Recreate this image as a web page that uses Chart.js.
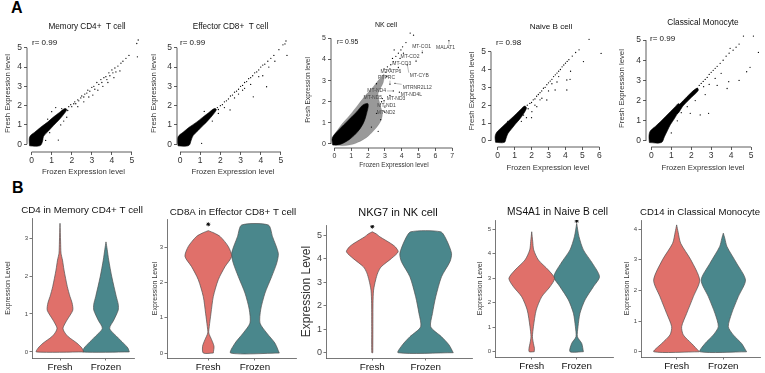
<!DOCTYPE html>
<html>
<head>
<meta charset="utf-8">
<script src="https://cdn.jsdelivr.net/npm/chart.js@4.4.1/dist/chart.umd.min.js"></script>
<style>
  body { margin: 0; width: 765px; height: 373px; position: relative; overflow: hidden; background: #fff; }
  canvas { position: absolute; }
  .tag { position: absolute; font: bold 16px 'Liberation Sans', Arial, sans-serif; line-height: 16px; color: #000; }
</style>
</head>
<body>
<div class="tag" style="left:11px;top:0px">A</div>
<div class="tag" style="left:12px;top:180px">B</div>
<script>
// ---------- data: panel A (scatter, fresh vs frozen) ----------
const ticks05 = [0, 1, 2, 3, 4, 5];
const ticks06 = [0, 1, 2, 3, 4, 5, 6];
const ticks07 = [0, 1, 2, 3, 4, 5, 6, 7];

// dense cores (outline of the solid black blob)
const memCd4Core = [[-0.1,-0.08],[-0.12,0.2],[-0.08,0.42],[0.15,0.62],[0.45,0.88],[0.8,1.15],[1.1,1.42],[1.4,1.66],[1.65,1.85],[1.75,1.8],[1.6,1.55],[1.35,1.25],[1.1,0.98],[0.85,0.7],[0.6,0.42],[0.55,0.18],[0.45,-0.05],[0.2,-0.1]];
const memCd4Pts = [[1.95,2.05],[2.0,1.95],[2.1,2.1],[2.15,2.2],[2.2,2.1],[2.3,2.3],[2.35,2.25],[2.45,2.4],[2.5,2.5],[2.6,2.45],[2.65,2.6],[2.75,2.65],[2.8,2.8],[2.9,2.75],[3.0,2.95],[3.1,3.0],[3.15,2.85],[3.25,3.2],[3.35,3.1],[3.45,3.35],[3.5,3.2],[3.6,3.45],[3.7,3.5],[3.75,3.35],[3.85,3.7],[3.9,3.55],[4.0,3.85],[4.05,3.7],[4.15,3.95],[4.2,3.75],[4.3,4.05],[4.45,4.2],[4.55,4.3],[4.7,4.45],[4.85,4.6],[5.31,5.4],[5.24,5.22],[5.27,4.53],[2.3,1.95],[2.6,2.2],[2.85,2.45],[3.05,2.55],[3.3,2.8],[3.55,3.0],[3.8,3.2],[4.1,3.45],[4.4,3.8],[1.6,1.2],[1.45,1.0],[1.33,0.22],[1.0,1.69],[0.8,1.3],[1.2,1.9],[1.75,1.4],[1.5,1.85],[1.85,1.95],[1.8,1.75],[0.7,0.2],[0.9,0.6]];

const effCd8Core = [[-0.1,-0.08],[-0.12,0.2],[-0.08,0.42],[0.15,0.62],[0.45,0.88],[0.8,1.13],[1.1,1.38],[1.4,1.62],[1.7,1.85],[1.8,1.8],[1.65,1.55],[1.4,1.25],[1.15,0.98],[0.9,0.72],[0.65,0.45],[0.55,0.2],[0.45,-0.05],[0.2,-0.1]];
const effCd8Pts = [[2.0,2.0],[2.1,2.05],[2.2,2.2],[2.3,2.25],[2.4,2.35],[2.5,2.5],[2.6,2.55],[2.7,2.7],[2.8,2.75],[2.9,2.85],[3.0,3.0],[3.1,3.05],[3.2,3.2],[3.3,3.25],[3.4,3.4],[3.5,3.45],[3.6,3.55],[3.7,3.7],[3.8,3.75],[3.9,3.85],[4.0,4.0],[4.1,4.1],[4.2,4.15],[4.35,4.3],[4.5,4.45],[4.65,4.6],[4.9,4.9],[5.1,5.15],[5.25,5.35],[5.3,4.6],[5.2,5.2],[2.48,1.78],[3.63,2.46],[4.29,2.98],[3.2,2.9],[3.5,3.1],[3.9,3.5],[4.1,3.55],[2.7,2.4],[2.9,2.6],[3.1,2.8],[1.07,0.05],[1.6,1.2],[1.9,1.6],[2.2,1.9],[1.2,1.7],[4.4,4.0],[4.7,4.3],[1.85,1.9],[1.9,1.8]];

const nkCore = [[-0.1,-0.05],[-0.12,0.3],[0.3,0.7],[0.8,1.1],[1.3,1.5],[1.7,1.85],[2.0,1.9],[1.9,1.4],[1.7,0.95],[1.35,0.55],[0.95,0.25],[0.55,0.05],[0.2,-0.05]];
const nkHalo = [[-0.12,0.3],[0.4,0.9],[0.9,1.35],[1.4,1.85],[1.9,2.35],[2.3,2.7],[2.7,3.1],[2.95,3.3],[2.9,2.9],[2.6,2.4],[2.7,1.9],[2.85,1.4],[2.7,1.0],[2.3,0.6],[1.9,0.3],[1.4,0.08],[0.9,-0.05],[0.2,-0.05]];
const nkPts = [[3.05,3.4],[3.2,3.5],[3.15,3.65],[3.35,3.75],[3.5,3.9],[3.45,4.05],[3.65,4.15],[3.8,4.3],[3.95,4.45],[4.05,4.6],[4.25,4.8],[4.5,5.25],[4.7,5.15],[3.9,4.05],[4.1,4.3],[3.3,3.55],[2.95,3.55],[3.1,3.2],[2.8,2.0],[3.0,1.75],[2.5,1.45],[2.75,1.15],[3.0,1.5],[2.2,0.8],[2.6,0.6],[3.55,4.45],[2.5,2.85],[6.8,4.89],[5.22,4.32],[4.85,3.92],[3.8,3.62],[4.33,3.74],[3.3,2.83],[3.6,2.87],[3.86,2.45],[3.5,2.51],[3.3,2.3],[2.85,2.15],[2.95,2.05],[2.95,1.55]];
// gene labels: [name, textX, textY, pointX, pointY]
const nkGenes = [
  ['MALAT1', 6.6, 4.56, 6.8, 4.89],
  ['MT-CO1', 5.18, 4.59, 5.22, 4.32],
  ['MT-CO2', 4.49, 4.13, 4.85, 3.92],
  ['MT-CO3', 4.0, 3.8, 3.8, 3.62],
  ['MT-CYB', 5.04, 3.23, 4.33, 3.74],
  ['MT-ATP6', 3.36, 3.42, 2.95, 3.45],
  ['PTPRC', 3.1, 3.14, 3.3, 2.83],
  ['MTRNR2L12', 4.92, 2.68, 3.6, 2.87],
  ['MT-ND4L', 4.57, 2.35, 3.86, 2.45],
  ['MT-ND4', 2.51, 2.51, 3.5, 2.51],
  ['MT-ND3', 3.66, 2.13, 3.3, 2.3],
  ['MT-ND5', 2.28, 2.19, 2.85, 2.15],
  ['MT-ND1', 3.1, 1.81, 2.95, 2.05],
  ['MT-ND2', 3.07, 1.5, 2.95, 1.55]
];

const naiveBCore = [[-0.12,-0.08],[-0.15,0.22],[-0.08,0.45],[0.15,0.68],[0.45,0.95],[0.8,1.25],[1.1,1.52],[1.4,1.8],[1.6,1.95],[1.7,1.85],[1.55,1.55],[1.3,1.22],[1.05,0.95],[0.8,0.65],[0.6,0.4],[0.5,0.15],[0.4,-0.08]];
const naiveBPts = [[1.9,2.1],[2.0,2.15],[2.1,2.3],[2.2,2.35],[2.3,2.5],[2.4,2.6],[2.5,2.7],[2.6,2.8],[2.7,2.95],[2.8,3.0],[2.9,3.15],[3.0,3.25],[3.1,3.35],[3.2,3.45],[3.3,3.6],[3.4,3.7],[3.5,3.8],[3.6,3.9],[3.7,4.0],[3.8,4.15],[3.9,4.25],[4.0,4.35],[4.1,4.45],[4.2,4.55],[4.4,4.75],[4.6,4.95],[4.8,5.1],[5.39,5.69],[6.1,4.9],[5.06,4.44],[4.08,3.41],[4.27,3.45],[3.39,2.85],[4.08,2.85],[2.61,2.39],[2.9,2.29],[2.31,1.92],[2.02,1.64],[1.53,1.45],[2.2,2.0],[2.5,2.3],[3.0,2.8],[3.5,3.3],[4.3,3.9],[1.7,1.3],[1.4,1.1],[2.0,1.3],[0.6,1.1],[3.2,3.2],[3.6,3.6],[1.75,2.0],[1.8,1.8]];

const monoCore = [[-0.1,-0.08],[-0.12,0.25],[-0.05,0.5],[0.2,0.72],[0.45,0.95],[0.7,1.2],[0.95,1.45],[1.2,1.7],[1.35,1.85],[1.45,1.75],[1.35,1.45],[1.15,1.1],[0.95,0.8],[0.8,0.5],[0.65,0.2],[0.5,-0.08]];
const monoBand = [[1.2,1.6],[1.6,2.0],[2.0,2.4],[2.3,2.62],[2.35,2.5],[2.0,2.15],[1.6,1.75],[1.3,1.35]];
const monoPts = [[1.5,1.85],[1.6,1.95],[1.7,2.05],[1.75,2.0],[1.85,2.2],[1.9,2.15],[2.0,2.3],[2.1,2.4],[2.2,2.5],[2.3,2.6],[2.4,2.75],[2.5,2.85],[2.6,2.95],[2.7,3.05],[2.8,3.15],[2.9,3.3],[3.0,3.4],[3.1,3.5],[3.2,3.6],[3.3,3.7],[3.45,3.85],[3.6,4.0],[3.75,4.2],[3.9,4.35],[3.95,4.59],[4.1,4.5],[4.25,4.65],[4.4,4.8],[4.62,5.2],[5.12,5.2],[5.37,4.39],[1.95,1.37],[2.45,1.29],[2.87,1.37],[3.8,2.6],[3.88,2.94],[4.78,3.43],[4.95,3.65],[2.62,2.69],[2.9,2.8],[3.2,3.1],[3.5,3.35],[2.2,2.0],[1.8,1.7],[1.5,1.4],[1.3,1.0],[2.7,2.3],[3.3,2.75],[4.4,3.0],[1.0,0.4]];

// ---------- data: panel B (violins) ----------
const groups = ['Fresh', 'Frozen'];
const vTicks3 = [0, 1, 2, 3];
const vTicks4 = [0, 1, 2, 3, 4];
const vTicks5 = [0, 1, 2, 3, 4, 5];

// level (y) and half-width (in group units) of each violin outline
const cd4FreshY  = [0, 0.1, 0.23, 0.4, 0.52, 0.63, 0.84, 1.1, 1.3, 1.46, 1.72, 2.16, 2.42, 2.6, 2.9, 3.39];
const cd4FreshW  = [0.515, 0.478, 0.37, 0.18, 0.098, 0.065, 0.152, 0.278, 0.261, 0.217, 0.159, 0.087, 0.054, 0.022, 0.013, 0];
const cd4FrozenY = [0, 0.1, 0.23, 0.4, 0.62, 0.84, 1.1, 1.25, 1.46, 1.98, 2.42, 2.7, 2.9];
const cd4FrozenW = [0.507, 0.478, 0.38, 0.239, 0.08, 0.17, 0.265, 0.267, 0.224, 0.126, 0.059, 0.026, 0];

const cd8FreshY  = [0, 0.19, 0.38, 0.57, 0.75, 1.13, 1.6, 2.08, 2.45, 2.74, 3.02, 3.3, 3.4, 3.47];
const cd8FreshW  = [0.107, 0.122, 0.071, 0.011, 0.021, 0.058, 0.107, 0.214, 0.358, 0.499, 0.428, 0.257, 0.128, 0];
const cd8FrozenY = [0, 0.28, 0.57, 0.85, 1.23, 1.7, 2.17, 2.55, 2.83, 3.3, 3.63];
const cd8FrozenW = [0.52, 0.428, 0.25, 0.107, 0.122, 0.214, 0.358, 0.465, 0.499, 0.375, 0.285];

const nkg7FreshY  = [0, 1, 2.1, 2.66, 3.09, 3.4, 3.65, 4.01, 4.29, 4.5, 4.65, 4.93, 5.05, 5.14];
const nkg7FreshW  = [0.009, 0.011, 0.013, 0.024, 0.062, 0.103, 0.165, 0.36, 0.484, 0.43, 0.343, 0.141, 0.075, 0];
const nkg7FrozenY = [0, 0.33, 0.68, 1.1, 1.67, 2.38, 3.23, 3.87, 4.22, 4.79, 5.14];
const nkg7FrozenW = [0.516, 0.437, 0.296, 0.094, 0.126, 0.188, 0.296, 0.454, 0.484, 0.39, 0.281];

const ms4a1FreshY  = [0, 0.14, 0.34, 0.61, 1.02, 1.7, 2.24, 2.65, 2.99, 3.33, 3.74, 4.15, 4.5, 4.89];
const ms4a1FreshW  = [0.056, 0.06, 0.038, 0.016, 0.038, 0.1, 0.222, 0.407, 0.507, 0.371, 0.149, 0.044, 0.022, 0];
const ms4a1FrozenY = [0, 0.34, 0.61, 1.02, 1.57, 2.11, 2.65, 3.06, 3.6, 4.15, 4.69, 5.23];
const ms4a1FrozenW = [0.149, 0.111, 0.016, 0.029, 0.073, 0.184, 0.371, 0.507, 0.351, 0.149, 0.051, 0];

const cd14FreshY  = [0, 0.27, 0.55, 0.82, 1.25, 1.8, 2.34, 3.0, 3.54, 3.9, 4.14];
const cd14FreshW  = [0.488, 0.321, 0.143, 0.107, 0.214, 0.358, 0.493, 0.304, 0.086, 0.032, 0];
const cd14FrozenY = [0, 0.27, 0.55, 0.82, 1.25, 1.8, 2.34, 2.89, 3.43, 3.7, 3.87];
const cd14FrozenW = [0.499, 0.392, 0.214, 0.107, 0.178, 0.321, 0.475, 0.285, 0.079, 0.032, 0];

// significance stars: [group position, level]
const cd8Stars = [[1, 3.65]];
const nkg7Stars = [[1, 5.36]];
const ms4a1Stars = [[2, 5.33]];

const FRESH = '#e0706a';
const FROZEN = '#4a878c';
const FONT = "'Liberation Sans', Arial, Helvetica, sans-serif";

Chart.defaults.font.family = FONT;
Chart.defaults.animation = false;

/**
 * helpers
 */
const xy = (pairs) => pairs.map(([x, y]) => ({ x, y }));
const closed = (pairs) => xy(pairs.concat([pairs[0]]));

function violin(center, ys, ws) {
  const right = ys.map((y, i) => ({ x: center + ws[i], y }));
  const left = ys.map((y, i) => ({ x: center - ws[i], y })).reverse();
  return right.concat(left, [right[0]]);
}

function makeCanvas(box) {
  const c = document.createElement('canvas');
  c.width = box.x1 - box.x0;
  c.height = box.y1 - box.y0;
  c.style.left = box.x0 + 'px';
  c.style.top = box.y0 + 'px';
  document.body.appendChild(c);
  return c;
}

// turn page positions into box sizes so that the plot area lands where the reference has it
function frame(box, area, t) {
  const lh = (s) => s * 1.2;
  const pos = (v) => Math.max(0, v);
  return {
    padRight: box.x1 - area.r,
    yW: area.l - box.x0,
    xH: box.y1 - area.b,
    titlePad: { top: pos(t.titleY - box.y0 - lh(t.titleSize) / 2), bottom: pos(area.t - t.titleY - lh(t.titleSize) / 2) },
    yTitlePad: { top: pos(t.yTitleX - box.x0 - lh(t.yTitleSize) / 2), bottom: 0 },
    xTitlePad: { top: 0, bottom: pos(box.y1 - (t.xTitleY || box.y1) - lh(t.xTitleSize || 8) / 2) }
  };
}

// empty right-hand scale: keeps the plot area narrow without moving the centred title
const spacer = (w) => ({
  type: 'linear', position: 'right', display: true,
  grid: { display: false }, border: { display: false }, ticks: { display: false },
  afterFit: (s) => { s.width = w; }
});

// R style axis line: only from first to last tick
const rAxis = {
  id: 'rAxis',
  afterDraw(chart) {
    const { ctx, chartArea: a, scales: { x, y } } = chart;
    ctx.save();
    ctx.strokeStyle = '#333';
    ctx.lineWidth = 0.8;
    ctx.beginPath();
    const xt = x.ticks, yt = y.ticks;
    ctx.moveTo(x.getPixelForValue(xt[0].value), a.bottom);
    ctx.lineTo(x.getPixelForValue(xt[xt.length - 1].value), a.bottom);
    ctx.moveTo(a.left, y.getPixelForValue(yt[0].value));
    ctx.lineTo(a.left, y.getPixelForValue(yt[yt.length - 1].value));
    ctx.stroke();
    ctx.restore();
  }
};

const corner = {
  id: 'corner',
  afterDraw(chart, args, opts) {
    if (!opts || !opts.text) return;
    const { ctx, chartArea: a } = chart;
    ctx.save();
    ctx.font = `${opts.size}px ${FONT}`;
    ctx.fillStyle = '#111';
    ctx.textBaseline = 'middle';
    ctx.fillText(opts.text, a.left + opts.dx, a.top + opts.dy);
    ctx.restore();
  }
};

const geneLabels = {
  id: 'geneLabels',
  afterDatasetsDraw(chart, args, opts) {
    if (!opts || !opts.items) return;
    const { ctx, scales: { x, y } } = chart;
    ctx.save();
    ctx.font = `5px ${FONT}`;
    ctx.textAlign = 'center';
    ctx.textBaseline = 'middle';
    ctx.strokeStyle = '#777';
    ctx.fillStyle = '#444';
    ctx.lineWidth = 0.5;
    opts.items.forEach(([name, tx, ty, px, py]) => {
      const cx = x.getPixelForValue(tx), cy = y.getPixelForValue(ty);
      const qx = x.getPixelForValue(px), qy = y.getPixelForValue(py);
      const hw = ctx.measureText(name).width / 2 + 1;
      const ex = Math.min(Math.max(qx, cx - hw), cx + hw);
      const ey = Math.min(Math.max(qy, cy - 3), cy + 3);
      ctx.beginPath();
      ctx.moveTo(qx, qy);
      ctx.lineTo(ex, ey);
      ctx.stroke();
      ctx.fillText(name, cx, cy);
    });
    ctx.restore();
  }
};

/**
 * scatter panel (A)
 */
function scatterPanel(p) {
  const f = frame(p.box, p.area, p.text);
  const datasets = [
    { data: xy(p.points), backgroundColor: '#000', borderWidth: 0, pointRadius: 0.65, pointHoverRadius: 0.65 }
  ];
  (p.cores || []).forEach((poly) => datasets.push({
    type: 'line', data: closed(poly), fill: 'shape', backgroundColor: '#000', borderColor: '#000',
    borderWidth: 0.6, pointRadius: 0, tension: 0.35
  }));
  (p.halos || []).forEach((poly) => datasets.push({
    type: 'line', data: closed(poly), fill: 'shape', backgroundColor: 'rgba(0,0,0,0.4)', borderColor: 'rgba(0,0,0,0.2)',
    borderWidth: 0.6, pointRadius: 0, tension: 0.35
  }));
  const axisFont = { size: p.text.axisSize, family: FONT };
  return new Chart(makeCanvas(p.box), {
    type: 'scatter',
    data: { datasets },
    plugins: [rAxis, corner, geneLabels],
    options: {
      responsive: false,
      events: [],
      layout: { padding: 0, autoPadding: false },
      plugins: {
        legend: { display: false },
        tooltip: { enabled: false },
        title: { display: true, text: p.text.title, color: '#111', font: { size: p.text.titleSize, weight: 'normal' }, padding: f.titlePad },
        corner: { text: p.text.r, dx: p.text.rdx, dy: p.text.rdy, size: p.text.rSize },
        geneLabels: { items: p.genes }
      },
      scales: {
        x: {
          type: 'linear', min: p.xRange[0], max: p.xRange[1],
          afterBuildTicks: (s) => { s.ticks = p.xTicks.map((v) => ({ value: v })); },
          afterFit: (s) => { s.height = f.xH; },
          border: { display: false },
          grid: { drawOnChartArea: false, tickLength: 3, color: '#333', lineWidth: 0.8 },
          ticks: { font: axisFont, color: '#333', padding: 1, maxRotation: 0, autoSkip: false },
          title: { display: true, text: 'Frozen Expression level', color: '#333', font: { size: p.text.xTitleSize }, padding: f.xTitlePad }
        },
        y: {
          type: 'linear', min: p.yRange[0], max: p.yRange[1],
          afterBuildTicks: (s) => { s.ticks = p.yTicks.map((v) => ({ value: v })); },
          afterFit: (s) => { s.width = f.yW; },
          border: { display: false },
          grid: { drawOnChartArea: false, tickLength: 3, color: '#333', lineWidth: 0.8 },
          ticks: { font: axisFont, color: '#333', padding: 2, autoSkip: false },
          title: { display: true, text: 'Fresh Expression level', color: '#333', font: { size: p.text.yTitleSize }, padding: f.yTitlePad }
        },
        pad: spacer(f.padRight)
      }
    }
  });
}

/**
 * violin panel (B)
 */
function violinPanel(p) {
  const f = frame(p.box, p.area, p.text);
  const edge = { borderColor: '#505050', borderWidth: 0.7, pointRadius: 0, tension: 0.25, fill: 'shape' };
  const datasets = [
    Object.assign({ type: 'line', data: violin(1, p.fresh[0], p.fresh[1]), backgroundColor: FRESH }, edge),
    Object.assign({ type: 'line', data: violin(2, p.frozen[0], p.frozen[1]), backgroundColor: FROZEN }, edge),
    { data: xy(p.stars || []), pointStyle: 'star', pointRadius: 2, borderColor: '#000', borderWidth: 0.9, backgroundColor: '#000' }
  ];
  return new Chart(makeCanvas(p.box), {
    type: 'scatter',
    data: { datasets },
    options: {
      responsive: false,
      events: [],
      layout: { padding: 0, autoPadding: false },
      plugins: {
        legend: { display: false },
        tooltip: { enabled: false },
        title: { display: true, text: p.text.title, color: '#111', font: { size: p.text.titleSize, weight: 'normal' }, padding: f.titlePad }
      },
      scales: {
        x: {
          type: 'linear', min: p.xRange[0], max: p.xRange[1],
          afterBuildTicks: (s) => { s.ticks = [1, 2].map((v) => ({ value: v })); },
          afterFit: (s) => { s.height = f.xH; },
          border: { display: true, color: '#555', width: 0.8 },
          grid: { drawOnChartArea: false, tickLength: 2.5, color: '#555', lineWidth: 0.8 },
          ticks: { font: { size: 9.8 }, color: '#111', padding: 0.5, maxRotation: 0, autoSkip: false,
            callback: (v, i) => groups[i] }
        },
        y: {
          type: 'linear', min: p.yRange[0], max: p.yRange[1],
          afterBuildTicks: (s) => { s.ticks = p.yTicks.map((v) => ({ value: v })); },
          afterFit: (s) => { s.width = f.yW; },
          border: { display: true, color: '#555', width: 0.8 },
          grid: { drawOnChartArea: false, tickLength: 2.5, color: '#555', lineWidth: 0.8 },
          ticks: { font: { size: p.text.tickSize }, color: '#444', padding: 1.5, autoSkip: false },
          title: { display: true, text: 'Expression Level', color: '#333', font: { size: p.text.yTitleSize }, padding: f.yTitlePad }
        },
        pad: spacer(f.padRight)
      }
    }
  });
}

// ---------- panel A ----------
scatterPanel({
  box: { x0: 0, x1: 174, y0: 18, y1: 178 }, area: { l: 27, t: 35, r: 140, b: 152 },
  xRange: [-0.23, 5.4], yRange: [-0.4, 5.66], xTicks: ticks05, yTicks: ticks05,
  cores: [memCd4Core], points: memCd4Pts,
  text: { title: 'Memory CD4+  T cell', titleSize: 8.2, titleY: 27, yTitleSize: 7.8, yTitleX: 7.5, xTitleSize: 7.8, xTitleY: 172,
    axisSize: 8.5, r: 'r= 0.99', rdx: 5, rdy: 8, rSize: 8 }
});
scatterPanel({
  box: { x0: 148, x1: 313, y0: 18, y1: 178 }, area: { l: 177, t: 35, r: 289, b: 152 },
  xRange: [-0.15, 5.4], yRange: [-0.4, 5.66], xTicks: ticks05, yTicks: ticks05,
  cores: [effCd8Core], points: effCd8Pts,
  text: { title: 'Effector CD8+  T cell', titleSize: 8.2, titleY: 27, yTitleSize: 7.8, yTitleX: 154, xTitleSize: 7.8, xTitleY: 172,
    axisSize: 8.5, r: 'r= 0.99', rdx: 3, rdy: 8, rSize: 8 }
});
scatterPanel({
  box: { x0: 300, x1: 472, y0: 14, y1: 172 }, area: { l: 331, t: 32, r: 457, b: 148 },
  xRange: [-0.2, 7.28], yRange: [-0.19, 5.3], xTicks: ticks07, yTicks: ticks05,
  cores: [nkCore], halos: [nkHalo], points: nkPts, genes: nkGenes,
  text: { title: 'NK cell', titleSize: 7, titleY: 25, yTitleSize: 6.5, yTitleX: 308, xTitleSize: 6.5, xTitleY: 165,
    axisSize: 7, r: 'r= 0.95', rdx: 6, rdy: 9.7, rSize: 6.8 }
});
scatterPanel({
  box: { x0: 465, x1: 637, y0: 18, y1: 176 }, area: { l: 491, t: 35, r: 605, b: 147 },
  xRange: [-0.39, 6.33], yRange: [-0.34, 5.93], xTicks: ticks06, yTicks: ticks05,
  cores: [naiveBCore], points: naiveBPts,
  text: { title: 'Naive B cell', titleSize: 8.1, titleY: 27, yTitleSize: 7.8, yTitleX: 472, xTitleSize: 7.8, xTitleY: 168,
    axisSize: 8.5, r: 'r= 0.98', rdx: 5, rdy: 7.7, rSize: 8 }
});
scatterPanel({
  box: { x0: 615, x1: 791, y0: 14, y1: 176 }, area: { l: 646, t: 30, r: 760, b: 147 },
  xRange: [-0.27, 5.45], yRange: [-0.3, 5.5], xTicks: ticks05, yTicks: ticks05,
  cores: [monoCore, monoBand], points: monoPts,
  text: { title: 'Classical Monocyte', titleSize: 8.3, titleY: 23, yTitleSize: 7.8, yTitleX: 622, xTitleSize: 7.8, xTitleY: 168,
    axisSize: 8.5, r: 'r= 0.99', rdx: 4, rdy: 9, rSize: 8 }
});

// ---------- panel B ----------
violinPanel({
  box: { x0: 0, x1: 164, y0: 200, y1: 373 }, area: { l: 32, t: 218, r: 134, b: 358 },
  xRange: [0.391, 2.609], yRange: [-0.16, 3.53], yTicks: vTicks3,
  fresh: [cd4FreshY, cd4FreshW], frozen: [cd4FrozenY, cd4FrozenW],
  text: { title: 'CD4 in Memory CD4+ T cell', titleSize: 9.75, titleY: 210, yTitleSize: 7, yTitleX: 8, tickSize: 6 }
});
violinPanel({
  box: { x0: 145, x1: 321, y0: 200, y1: 373 }, area: { l: 167, t: 219, r: 296, b: 358 },
  xRange: [0.116, 2.878], yRange: [-0.14, 3.8], yTicks: vTicks3,
  fresh: [cd8FreshY, cd8FreshW], frozen: [cd8FrozenY, cd8FrozenW], stars: cd8Stars,
  text: { title: 'CD8A in Effector CD8+ T cell', titleSize: 9.75, titleY: 212, yTitleSize: 7, yTitleX: 155, tickSize: 6 }
});
violinPanel({
  box: { x0: 292, x1: 504, y0: 200, y1: 373 }, area: { l: 326, t: 225, r: 472, b: 358 },
  xRange: [0.133, 2.867], yRange: [-0.225, 5.43], yTicks: vTicks5,
  fresh: [nkg7FreshY, nkg7FreshW], frozen: [nkg7FrozenY, nkg7FrozenW], stars: nkg7Stars,
  text: { title: 'NKG7 in NK cell', titleSize: 11, titleY: 213, yTitleSize: 12, yTitleX: 307, tickSize: 9 }
});
violinPanel({
  box: { x0: 475, x1: 640, y0: 200, y1: 373 }, area: { l: 495, t: 220, r: 613, b: 357 },
  xRange: [0.184, 2.807], yRange: [-0.216, 5.37], yTicks: vTicks5,
  fresh: [ms4a1FreshY, ms4a1FreshW], frozen: [ms4a1FrozenY, ms4a1FrozenW], stars: ms4a1Stars,
  text: { title: 'MS4A1 in Naive B cell', titleSize: 10.2, titleY: 212, yTitleSize: 7, yTitleX: 480, tickSize: 6 }
});
violinPanel({
  box: { x0: 620, x1: 780, y0: 200, y1: 373 }, area: { l: 641, t: 220, r: 760, b: 357 },
  xRange: [0.236, 2.786], yRange: [-0.17, 4.3], yTicks: vTicks4,
  fresh: [cd14FreshY, cd14FreshW], frozen: [cd14FrozenY, cd14FrozenW],
  text: { title: 'CD14 in Classical Monocyte', titleSize: 9.6, titleY: 212, yTitleSize: 7, yTitleX: 627, tickSize: 6 }
});
</script>
</body>
</html>
